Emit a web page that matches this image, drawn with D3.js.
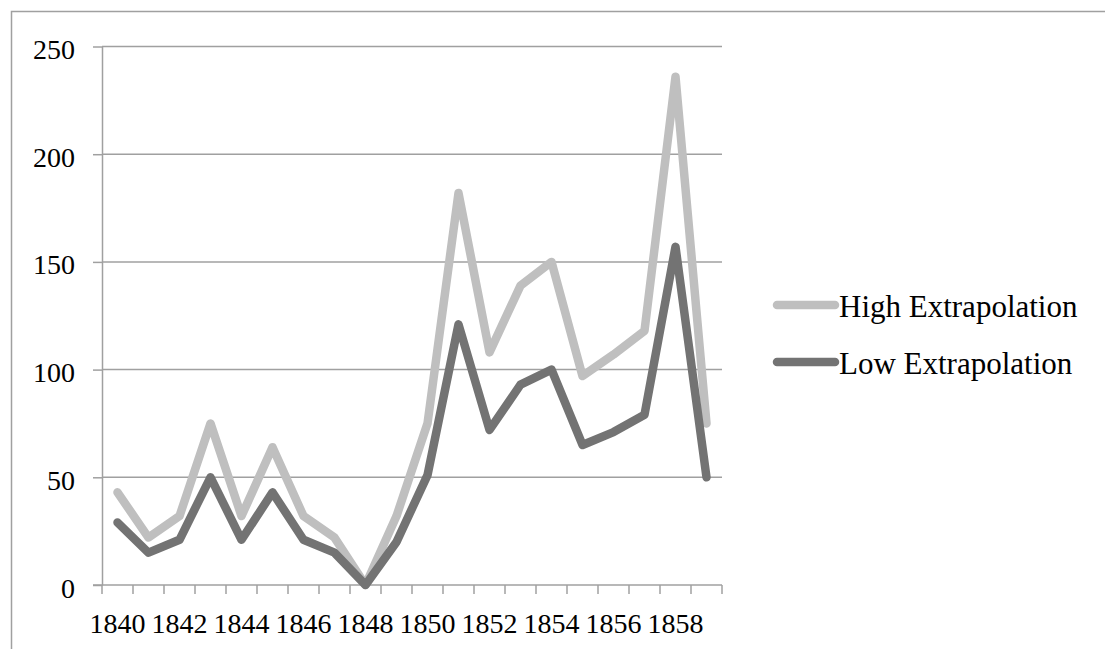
<!DOCTYPE html>
<html>
<head>
<meta charset="utf-8">
<script src="https://cdn.jsdelivr.net/npm/d3@7"></script>
<style>
  body { margin: 0; background: #fff; }
  svg { display: block; font-family: "Liberation Serif", "Times New Roman", serif; }
</style>
</head>
<body>
<div id="chart"></div>
<script>
const years = d3.range(1840, 1860);
const high = [43, 22, 32, 75, 32, 64, 32, 22, 0, 32, 75, 182, 108, 139, 150, 97, 107, 118, 236, 75];
const low  = [29, 15, 21, 50, 21, 43, 21, 15, 0, 20, 51, 121, 72, 93, 100, 65, 71, 79, 157, 50];
const yTicks = [0, 50, 100, 150, 200, 250];
const seriesNames = ["High Extrapolation", "Low Extrapolation"];
const seriesColors = ["#bfbfbf", "#737373"];

const width = 1105, height = 649;
const plot = {left: 102, right: 722, top: 46.5, bottom: 585};
const gridColor = "#a0a0a0";

const svg = d3.select("#chart").append("svg")
  .attr("width", width)
  .attr("height", height);

// outer frame, runs off the right and bottom of the picture
svg.append("rect")
  .attr("x", 11.5).attr("y", 11.5)
  .attr("width", 1200).attr("height", 800)
  .attr("fill", "none")
  .attr("stroke", gridColor)
  .attr("stroke-width", 1.5);

const x = d3.scaleBand(years, [plot.left, plot.right]).padding(0);
const y = d3.scaleLinear([0, 250], [plot.bottom, plot.top]);
const cx = d => x(d) + x.bandwidth() / 2;

// gridlines
svg.append("g")
  .selectAll("line")
  .data(yTicks.filter(d => d > 0))
  .join("line")
  .attr("x1", plot.left).attr("x2", plot.right)
  .attr("y1", d => y(d)).attr("y2", d => y(d))
  .attr("stroke", gridColor)
  .attr("stroke-width", 1.5);

// y axis
const yAxis = svg.append("g")
  .attr("transform", `translate(${plot.left},0)`)
  .call(d3.axisLeft(y).tickValues(yTicks).tickSize(9).tickPadding(18).tickSizeOuter(0));
yAxis.select(".domain").attr("stroke", gridColor).attr("stroke-width", 1.5);
yAxis.selectAll(".tick line").attr("stroke", gridColor).attr("stroke-width", 1.5);
yAxis.selectAll(".tick text")
  .attr("font-size", 28)
  .attr("font-family", "Liberation Serif, serif")
  .attr("fill", "#000")
  .attr("dy", null)
  .attr("y", 12);

// x axis: ticks on category boundaries, labels every other year
const xAxis = svg.append("g")
  .attr("transform", `translate(0,${plot.bottom})`);
xAxis.append("line")
  .attr("x1", plot.left - 9).attr("x2", plot.right)
  .attr("stroke", gridColor)
  .attr("stroke-width", 1.5);
xAxis.selectAll(".edge")
  .data(d3.range(years.length + 1))
  .join("line")
  .attr("class", "edge")
  .attr("x1", i => plot.left + i * x.step())
  .attr("x2", i => plot.left + i * x.step())
  .attr("y1", 0).attr("y2", 9)
  .attr("stroke", gridColor)
  .attr("stroke-width", 1.5);
xAxis.selectAll("text")
  .data(years.filter(d => d % 2 === 0))
  .join("text")
  .attr("x", cx)
  .attr("y", 48)
  .attr("text-anchor", "middle")
  .attr("font-size", 28)
  .attr("fill", "#000")
  .text(d => d);

// lines
const line = d3.line()
  .x((d, i) => cx(years[i]))
  .y(d => y(d));

svg.append("g")
  .selectAll("path")
  .data([high, low])
  .join("path")
  .attr("d", line)
  .attr("fill", "none")
  .attr("stroke", (d, i) => seriesColors[i])
  .attr("stroke-width", 8.5)
  .attr("stroke-linejoin", "round")
  .attr("stroke-linecap", "round");

// legend
const legend = svg.append("g")
  .selectAll("g")
  .data(seriesNames)
  .join("g")
  .attr("transform", (d, i) => `translate(777,${305 + i * 57})`);
legend.append("line")
  .attr("x1", 0).attr("x2", 58)
  .attr("stroke", (d, i) => seriesColors[i])
  .attr("stroke-width", 8.5)
  .attr("stroke-linecap", "round");
legend.append("text")
  .attr("x", 62)
  .attr("y", 12)
  .attr("font-size", 31)
  .attr("fill", "#000")
  .text(d => d);
</script>
</body>
</html>
